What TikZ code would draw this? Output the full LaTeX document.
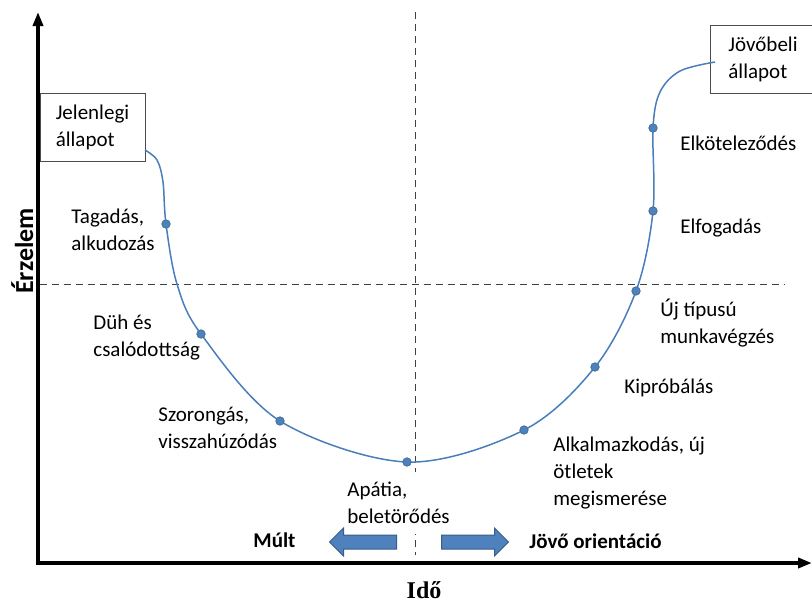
\documentclass[tikz,border=0pt]{standalone}
\usepackage{fontspec}
\setmainfont{Carlito}
\newfontfamily\idofont{Liberation Serif}
\usetikzlibrary{arrows.meta,shapes.arrows}
\definecolor{curveblue}{HTML}{4A7EBB}
\definecolor{dotblue}{HTML}{4F81BD}
\definecolor{dotedge}{HTML}{41719C}
\definecolor{arrowedge}{HTML}{385D8A}
\tikzset{
  dot/.style={circle,fill=dotblue,draw=dotedge,line width=0.4pt,inner sep=0,minimum size=4.2pt},
  lbl/.style={align=left,inner sep=0,font=\fontsize{10.5}{13.5}\selectfont},
  statebox/.style={draw=black!70,fill=white,align=left,inner sep=0,minimum width=52.5pt,minimum height=34pt,font=\fontsize{10.5}{13.5}\selectfont},
  blockarrow/.style={single arrow,fill=dotblue,draw=arrowedge,line width=0.5pt,inner xsep=0,inner ysep=3.25pt,minimum height=33.5pt,single arrow head extend=3.5pt},
  axis/.style={line width=2pt,{Triangle[width=5pt,length=7pt]}-{Triangle[width=5pt,length=7pt]}},
  guide/.style={black!75,line width=0.5pt,dash pattern=on 3.5pt off 2.5pt}
}
\begin{document}
\begin{tikzpicture}[x=0.5pt,y=-0.5pt]
  \useasboundingbox (0,0) rectangle (812,601);
  % axes and guide lines
  \coordinate (ytop) at (38,12);
  \coordinate (o) at (38,563);
  \coordinate (xend) at (812,563);
  \coordinate (hl) at (40,284);
  \coordinate (hr) at (785,284);
  \coordinate (vt) at (415,12);
  \coordinate (vb) at (415,555);
  \draw[guide] (hl) -- (hr);
  \draw[guide] (vt) -- (vb);
  \draw[axis] (ytop) -- (o) -- (xend);
  % states
  \node[statebox] (jelen) at (92.5,127) {Jelenlegi\\állapot};
  \node[statebox] (jovo) at (763,59) {Jövőbeli\\állapot};
  \coordinate (start) at (145,150);
  \coordinate (end) at (715,62);
  \coordinate (d1) at (166,224);
  \coordinate (d2) at (201,334);
  \coordinate (d3) at (280,421);
  \coordinate (d4) at (407,462);
  \coordinate (d5) at (524,430);
  \coordinate (d6) at (595,367);
  \coordinate (d7) at (636,291);
  \coordinate (d8) at (653,211);
  \coordinate (d9) at (653,128);
  \draw[curveblue,line width=0.75pt] plot[smooth,tension=0.55] coordinates {(start) (157,160) (163,182) (d1) (177,284) (d2) (d3) (d4) (d5) (d6) (d7) (d8) (d9) (660,92) (680,71) (end)};
  \foreach \d in {d1,d2,d3,d4,d5,d6,d7,d8,d9}
    \node[dot] (\d dot) at (\d) {};
  % phases
  \node[lbl,anchor=west] (tagadas) at (71,229.5) {Tagadás,\\alkudozás};
  \node[lbl,anchor=west] (duh) at (93,338) {Düh és\\csalódottság};
  \node[lbl,anchor=west] (szorongas) at (158,428) {Szorongás,\\visszahúzódás};
  \node[lbl,anchor=west,fill=white,inner ysep=5pt] (apatia) at (347,503) {Apátia,\\beletörődés};
  \node[lbl,anchor=west] (alkalmaz) at (553,472.5) {Alkalmazkodás, új\\ötletek\\megismerése};
  \node[lbl,anchor=base west] (kiprob) at (624,393) {Kipróbálás};
  \node[lbl,anchor=west] (ujtipus) at (660,323.5) {Új típusú\\munkavégzés};
  \node[lbl,anchor=base west] (elfog) at (680,233) {Elfogadás};
  \node[lbl,anchor=base west] (elkot) at (680,150) {Elköteleződés};
  % orientation
  \node[blockarrow,shape border rotate=180] (balnyil) at (366.5,542) {};
  \node[blockarrow] (jobbnyil) at (471.5,542) {};
  \node[lbl,anchor=base west,font=\fontsize{10.5}{13.5}\selectfont\bfseries] (mult) at (253,547) {Múlt};
  \node[lbl,anchor=base west,font=\fontsize{10.5}{13.5}\selectfont\bfseries] (jovoor) at (529,548) {Jövő orientáció};
  % axis titles
  \node[inner sep=0,anchor=base,font=\fontsize{12}{14}\idofont\bfseries] (ido) at (424,598) {Idő};
  \node[inner sep=0,anchor=base,rotate=90,font=\fontsize{13}{15}\selectfont\bfseries] (erzelem) at (33,251) {Érzelem};
\end{tikzpicture}
\end{document}
